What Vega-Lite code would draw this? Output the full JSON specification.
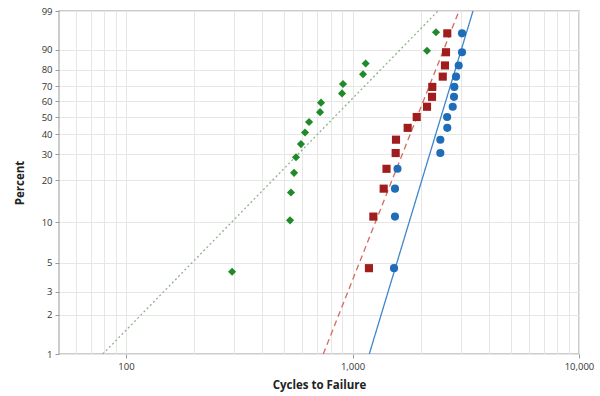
{
  "$schema": "https://vega.github.io/schema/vega-lite/v6.json",
  "width": 520,
  "height": 343,
  "autosize": "none",
  "padding": {"left": 59, "top": 11, "right": 21, "bottom": 42},
  "background": "white",
  "config": {
    "view": {"stroke": "#bcbcbc", "strokeWidth": 1.5},
    "font": "Open Sans",
    "axis": {"labelFont": "Open Sans", "titleFont": "Open Sans", "labelColor": "#333333", "titleColor": "#222222", "gridColor": "#e6e6e6", "gridWidth": 1, "domain": false, "tickColor": "#999999"}
  },
  "datasets": {
    "points": [
      {"series": "Green", "cycles": 294, "percent": 4.27},
      {"series": "Green", "cycles": 530, "percent": 10.37},
      {"series": "Green", "cycles": 535, "percent": 16.46},
      {"series": "Green", "cycles": 552, "percent": 22.56},
      {"series": "Green", "cycles": 563, "percent": 28.66},
      {"series": "Green", "cycles": 592, "percent": 34.76},
      {"series": "Green", "cycles": 617, "percent": 40.85},
      {"series": "Green", "cycles": 643, "percent": 46.95},
      {"series": "Green", "cycles": 719, "percent": 53.05},
      {"series": "Green", "cycles": 726, "percent": 59.15},
      {"series": "Green", "cycles": 899, "percent": 65.24},
      {"series": "Green", "cycles": 908, "percent": 71.34},
      {"series": "Green", "cycles": 1113, "percent": 77.44},
      {"series": "Green", "cycles": 1143, "percent": 83.54},
      {"series": "Green", "cycles": 2133, "percent": 89.63},
      {"series": "Green", "cycles": 2337, "percent": 95.73},
      {"series": "Red", "cycles": 1182, "percent": 4.55},
      {"series": "Red", "cycles": 1236, "percent": 11.04},
      {"series": "Red", "cycles": 1373, "percent": 17.53},
      {"series": "Red", "cycles": 1413, "percent": 24.03},
      {"series": "Red", "cycles": 1551, "percent": 30.52},
      {"series": "Red", "cycles": 1556, "percent": 37.01},
      {"series": "Red", "cycles": 1752, "percent": 43.5},
      {"series": "Red", "cycles": 1921, "percent": 50.0},
      {"series": "Red", "cycles": 2133, "percent": 56.5},
      {"series": "Red", "cycles": 2244, "percent": 62.99},
      {"series": "Red", "cycles": 2250, "percent": 69.48},
      {"series": "Red", "cycles": 2503, "percent": 75.97},
      {"series": "Red", "cycles": 2560, "percent": 82.47},
      {"series": "Red", "cycles": 2587, "percent": 88.96},
      {"series": "Red", "cycles": 2621, "percent": 95.45},
      {"series": "Blue", "cycles": 1525, "percent": 4.55},
      {"series": "Blue", "cycles": 1540, "percent": 11.04},
      {"series": "Blue", "cycles": 1540, "percent": 17.53},
      {"series": "Blue", "cycles": 1580, "percent": 24.03},
      {"series": "Blue", "cycles": 2442, "percent": 30.52},
      {"series": "Blue", "cycles": 2442, "percent": 37.01},
      {"series": "Blue", "cycles": 2621, "percent": 43.5},
      {"series": "Blue", "cycles": 2617, "percent": 50.0},
      {"series": "Blue", "cycles": 2770, "percent": 56.5},
      {"series": "Blue", "cycles": 2806, "percent": 62.99},
      {"series": "Blue", "cycles": 2815, "percent": 69.48},
      {"series": "Blue", "cycles": 2864, "percent": 75.97},
      {"series": "Blue", "cycles": 2944, "percent": 82.47},
      {"series": "Blue", "cycles": 3044, "percent": 88.96},
      {"series": "Blue", "cycles": 3044, "percent": 95.45}
    ],
    "fits": [
      {"series": "Green", "cycles": 79, "percent": 1},
      {"series": "Green", "cycles": 2385, "percent": 99},
      {"series": "Red", "cycles": 743, "percent": 1},
      {"series": "Red", "cycles": 2952, "percent": 99},
      {"series": "Blue", "cycles": 1186, "percent": 1},
      {"series": "Blue", "cycles": 3404, "percent": 99}
    ]
  },
  "encoding": {
    "x": {
      "field": "cycles",
      "type": "quantitative",
      "scale": {"type": "log", "domain": [50.6, 10000], "nice": false},
      "axis": {
        "title": "Cycles to Failure",
        "titleFontSize": 11.5,
        "titleFontWeight": "bold",
        "titlePadding": 9,
        "labelFontSize": 9.5,
        "labelPadding": 3,
        "tickSize": 4,
        "values": [60, 70, 80, 90, 100, 200, 300, 400, 500, 600, 700, 800, 900, 1000, 2000, 3000, 4000, 5000, 6000, 7000, 8000, 9000, 10000],
        "labelExpr": "indexof([100, 1000, 10000], datum.value) >= 0 ? format(datum.value, ',') : ''",
        "tickOpacity": {"condition": {"test": "indexof([100, 1000, 10000], datum.value) >= 0", "value": 1}, "value": 0},
        "labelFlush": false,
        "labelOverlap": false
      }
    },
    "y": {
      "field": "w",
      "type": "quantitative",
      "scale": {"domain": [-4.60015, 1.52718], "nice": false, "zero": false},
      "axis": {
        "title": "Percent",
        "titleFontSize": 11.5,
        "titleFontWeight": "bold",
        "titlePadding": 16,
        "labelFontSize": 9.5,
        "labelPadding": 3,
        "tickSize": 4,
        "values": [-4.60015, -3.90194, -3.49137, -2.97020, -2.25037, -1.49994, -1.03093, -0.67172, -0.36651, -0.08742, 0.18563, 0.47588, 0.83403, 1.52718],
        "labelExpr": "format(round(100 * (1 - exp(-exp(datum.value)))), 'd')",
        "labelFlush": false,
        "labelOverlap": false
      }
    }
  },
  "layer": [
    {
      "data": {"name": "fits"},
      "transform": [{"calculate": "log(-log(1 - datum.percent / 100))", "as": "w"}],
      "mark": {"type": "line", "clip": true},
      "encoding": {
        "detail": {"field": "series"},
        "color": {"field": "series", "type": "nominal", "scale": {"domain": ["Green", "Red", "Blue"], "range": ["#8db488", "#d46a5c", "#3f86cc"]}, "legend": null},
        "strokeDash": {"field": "series", "type": "nominal", "scale": {"domain": ["Green", "Red", "Blue"], "range": [[2, 2.5], [6, 4], [1, 0]]}, "legend": null},
        "strokeWidth": {"value": 1.3}
      }
    },
    {
      "data": {"name": "points"},
      "transform": [{"calculate": "log(-log(1 - datum.percent / 100))", "as": "w"}],
      "mark": {"type": "point", "filled": true, "opacity": 1},
      "encoding": {
        "color": {"field": "series", "type": "nominal", "scale": {"domain": ["Green", "Red", "Blue"], "range": ["#1f8a2a", "#a11c1c", "#1f6db8"]}, "legend": null},
        "shape": {"field": "series", "type": "nominal", "scale": {"domain": ["Green", "Red", "Blue"], "range": ["diamond", "square", "circle"]}, "legend": null},
        "size": {"value": 66}
      }
    }
  ],
  "resolve": {"scale": {"color": "independent"}}
}
